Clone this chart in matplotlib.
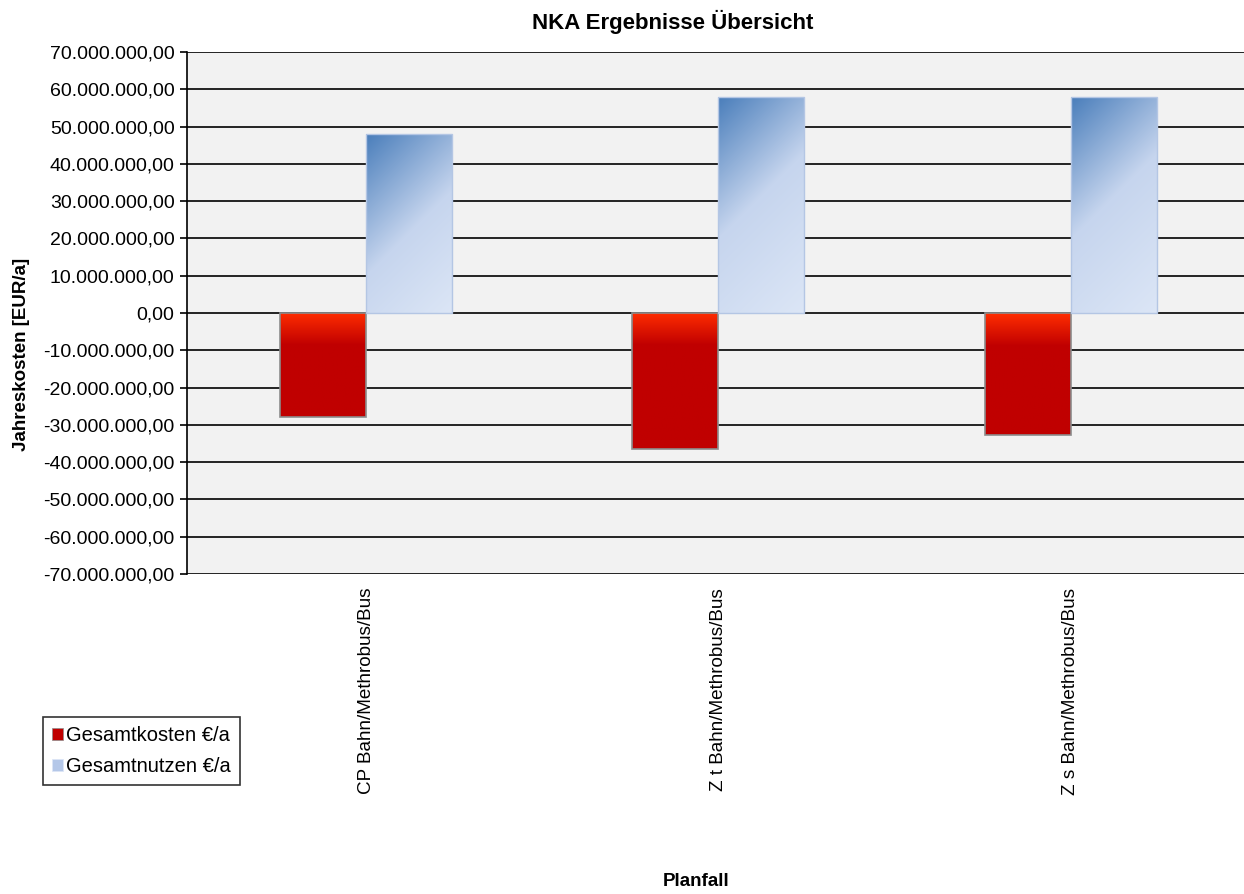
import numpy as np
import matplotlib.pyplot as plt
from matplotlib.colors import to_rgb
from matplotlib.patches import Patch
from matplotlib.ticker import FuncFormatter, MultipleLocator

plt.rcParams['font.family'] = ['Liberation Sans', 'DejaVu Sans']

planfall = ['CP Bahn/Methrobus/Bus', 'Z t Bahn/Methrobus/Bus', 'Z s Bahn/Methrobus/Bus']
kosten = [-27.9e6, -36.5e6, -32.7e6]
nutzen = [48.0e6, 57.9e6, 57.9e6]

def de_fmt(v, pos=None):
    s = '{:,.2f}'.format(v)
    return s.replace(',', 'X').replace('.', ',').replace('X', '.')

fig = plt.figure(figsize=(12.44, 8.94), dpi=100)
ax = fig.add_axes([187/1244, 1-574/894, 1-187/1244, (574-52)/894])
ax.set_facecolor('#f2f2f2')
ax.set_xlim(-0.508, 2.491)
ax.set_ylim(-70e6, 70e6)

w = 0.244
x = np.arange(len(planfall))

ax.yaxis.set_major_locator(MultipleLocator(10e6))
ax.yaxis.set_major_formatter(FuncFormatter(de_fmt))
ax.grid(axis='y', color='black', lw=1.2, zorder=0)
ax.set_axisbelow(True)

def lerp(c1, c2, t):
    c1, c2 = np.array(to_rgb(c1)), np.array(to_rgb(c2))
    return c1[None, None, :] * (1 - t[..., None]) + c2[None, None, :] * t[..., None]

def px_size(x0, x1, y0, y1):
    p0 = ax.transData.transform((x0, y0))
    p1 = ax.transData.transform((x1, y1))
    return max(int(abs(p1[0]-p0[0])), 2), max(int(abs(p1[1]-p0[1])), 2)

# Kosten: vertical red gradient from the zero line down
bars_k = ax.bar(x - w/2, kosten, w, color='none', edgecolor='#8c8c8c', lw=1.2, zorder=3)
for b in bars_k:
    x0, x1 = b.get_x(), b.get_x() + b.get_width()
    y1, y0 = 0, b.get_height()
    W, H = px_size(x0, x1, y0, y1)
    yy = np.tile(np.arange(H)[:, None], (1, W)).astype(float)
    t = np.clip(yy / 32.0, 0, 1)
    img = lerp('#ff2d00', '#c00000', t)
    im = ax.imshow(img, extent=(x0, x1, y0, y1), aspect='auto', zorder=2,
                   interpolation='bilinear')
    im.set_clip_path(b)

# Nutzen: diagonal blue gradient, dark at top left
bars_n = ax.bar(x + w/2, nutzen, w, color='none', edgecolor='#b4c6e4', lw=1.0, zorder=3)
for b in bars_n:
    x0, x1 = b.get_x(), b.get_x() + b.get_width()
    y0, y1 = 0, b.get_height()
    W, H = px_size(x0, x1, y0, y1)
    xx, yy = np.meshgrid(np.arange(W), np.arange(H))
    d = (xx + yy).astype(float)
    t1 = np.clip(d / 140.0, 0, 1)
    img = lerp('#4a7ebb', '#c6d5ee', t1)
    t2 = np.clip((d - 140.0) / max(W + H - 140.0, 1), 0, 1)
    img = np.where((d > 140)[..., None], lerp('#c6d5ee', '#dce6f6', t2), img)
    im = ax.imshow(img, extent=(x0, x1, y0, y1), aspect='auto', zorder=2,
                   interpolation='bilinear', origin='upper')
    im.set_clip_path(b)

ax.set_xlim(-0.508, 2.491)
ax.set_ylim(-70e6, 70e6)

for s in ['top', 'right', 'bottom']:
    ax.spines[s].set_visible(False)
ax.spines['left'].set_color('black')
ax.spines['left'].set_linewidth(1.2)
ax.tick_params(axis='y', length=5, width=1.2, labelsize=14, pad=4)
ax.set_xticks(x)
ax.set_xticklabels(planfall, rotation=90, fontsize=13.6, va='top')
ax.tick_params(axis='x', length=0, pad=10)

fig.text(673/1244, 1-22/894, 'NKA Ergebnisse Übersicht', fontsize=16, fontweight='bold',
         ha='center', va='center')
fig.text(22/1244, 1-354/894, 'Jahreskosten [EUR/a]', rotation=90, fontsize=13.5,
         fontweight='bold', ha='center', va='center')
fig.text(696/1244, 1-881/894, 'Planfall', fontsize=13.5, fontweight='bold',
         ha='center', va='center')

handles = [Patch(facecolor='#c00000', edgecolor='#8c8c8c', lw=0.5),
           Patch(facecolor='#b4c7e8', edgecolor='#dce6f6', lw=0.5)]
leg = fig.legend(handles, ['Gesamtkosten €/a', 'Gesamtnutzen €/a'], loc='upper left',
                 bbox_to_anchor=(43/1244, 1-717/894), fontsize=14.5, frameon=True,
                 fancybox=False, edgecolor='black', handlelength=0.55, handleheight=0.55,
                 handletextpad=0.15, borderpad=0.45, labelspacing=0.6, borderaxespad=0)
leg.get_frame().set_linewidth(1.2)

fig.savefig('out.png', dpi=100)
